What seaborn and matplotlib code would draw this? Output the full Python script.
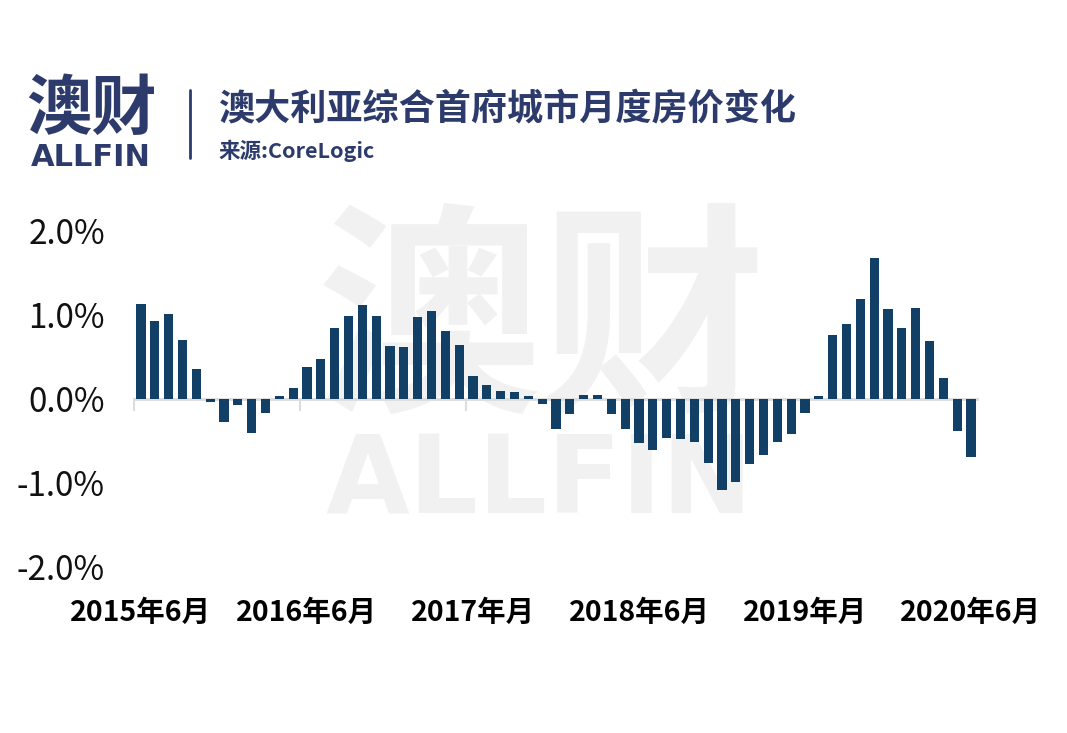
import pandas as pd
import seaborn as sns
import matplotlib.pyplot as plt

###
### DATA
###

### monthly change in combined capitals home values, Jun 2015 - Jun 2020 (%)
months = pd.date_range('2015-06-01', periods=61, freq='MS').strftime('%Y-%m').tolist()
change = [1.13, 0.93, 1.01, 0.70, 0.36, -0.04, -0.28, -0.07, -0.41, -0.17,
          0.04, 0.13, 0.38, 0.47, 0.85, 0.99, 1.12, 0.99, 0.63, 0.62,
          0.97, 1.05, 0.81, 0.64, 0.27, 0.17, 0.09, 0.08, 0.04, -0.06,
          -0.36, -0.18, 0.05, 0.05, -0.18, -0.36, -0.52, -0.61, -0.47, -0.48,
          -0.51, -0.76, -1.08, -0.99, -0.77, -0.67, -0.51, -0.42, -0.17, 0.04,
          0.76, 0.89, 1.19, 1.68, 1.07, 0.85, 1.08, 0.69, 0.25, -0.38,
          -0.69]
tick_idx = [0, 12, 24, 36, 48, 60]
tick_labels = ['2015年6月', '2016年6月', '2017年月', '2018年6月', '2019年月', '2020年6月']
y_ticks = [-2, -1, 0, 1, 2]
y_labels = ['-2.0%', '-1.0%', '0.0%', '1.0%', '2.0%']

df = pd.DataFrame({'month': months, 'change': change})

###
### STYLE
###

sns.set_style('white')
plt.rcParams['font.family'] = ['Noto Sans CJK SC', 'DejaVu Sans']

navy = '#2c3b6b'
bar_color = '#123f66'
line_grey = '#dcdcdc'
mark_grey = '#f1f1f1'

fig = plt.figure(figsize=(10.67, 7.33), dpi=100)
ax = fig.add_axes([0.1244, 0.2265, 0.7934, 0.4584])
ax.patch.set_alpha(0)

### watermark behind the chart
fig.text(0.508, 1 - 328 / 733, '澳财', fontsize=162, fontweight='bold', color=mark_grey,
         ha='center', va='center', zorder=-5)
fig.text(0.505, 1 - 483 / 733, 'ALLFIN', fontsize=78, fontweight='bold', color=mark_grey,
         family='DejaVu Sans', ha='center', va='center', zorder=-5)

###
### BARS
###

ax.axhline(0, color=line_grey, lw=2, zorder=0.5)
ax.vlines([-0.5, 11.5, 23.5], -0.14, 0, color=line_grey, lw=1.5, zorder=0.5)
sns.barplot(data=df, x='month', y='change', color=bar_color, width=0.66,
            saturation=1, edgecolor='none', ax=ax, zorder=2)

ax.set_xlim(-0.6, 60.6)
ax.set_ylim(-2, 2)
ax.set_yticks(y_ticks)
ax.set_yticklabels(y_labels, fontsize=24, color='#111111')
ax.set_xticks(tick_idx)
ax.set_xticklabels(tick_labels, fontsize=20.5, fontweight='bold', color='#000000')
ax.tick_params(axis='y', length=0, pad=20)
ax.tick_params(axis='x', length=0, pad=23)
ax.set_xlabel('')
ax.set_ylabel('')
sns.despine(ax=ax, left=True, bottom=True)

###
### HEADER
###

fig.text(91 / 1067, 1 - 109 / 733, '澳财', fontsize=47, fontweight='bold', color=navy,
         ha='center', va='center')
fig.text(91 / 1067, 1 - 157 / 733, 'ALLFIN', fontsize=22, fontweight='bold', color=navy,
         family='DejaVu Sans', ha='center', va='center')
fig.add_artist(plt.Line2D([190 / 1067, 190 / 1067], [1 - 90 / 733, 1 - 158 / 733],
                          color=navy, lw=2))
fig.text(218 / 1067, 1 - 109 / 733, '澳大利亚综合首府城市月度房价变化', fontsize=26,
         fontweight='bold', color=navy, ha='left', va='center')
fig.text(218 / 1067, 1 - 151 / 733, '来源:CoreLogic', fontsize=15.5,
         fontweight='bold', color=navy, ha='left', va='center')

plt.savefig('out.png', dpi=100)
